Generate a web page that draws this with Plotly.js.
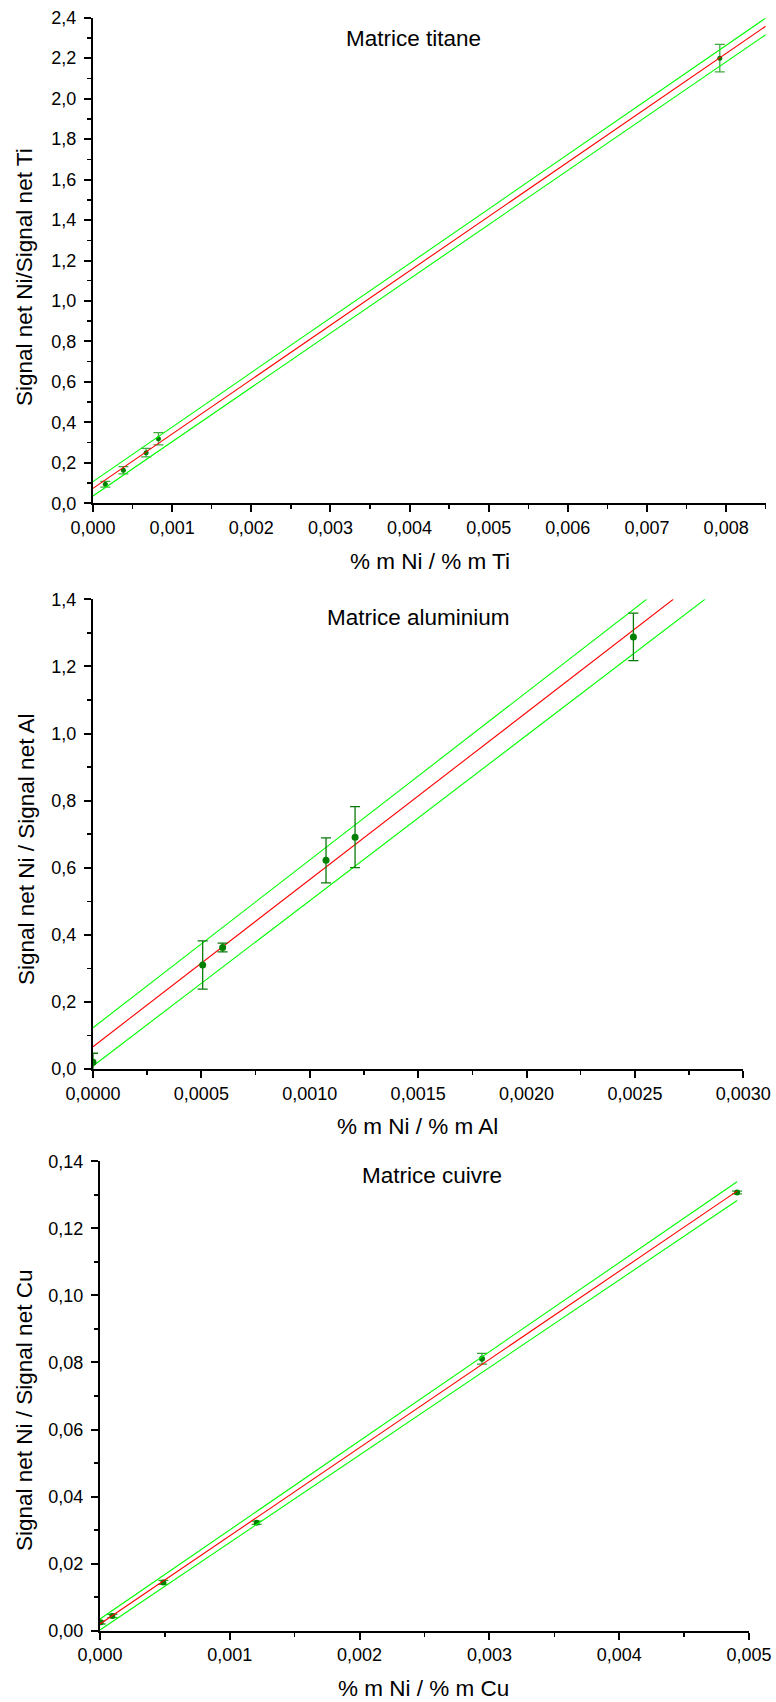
<!DOCTYPE html>
<html>
<head>
<meta charset="utf-8">
<script src="https://cdn.plot.ly/plotly-3.0.1.min.js"></script>
<style>
  html, body { margin: 0; padding: 0; background: #fff; }
  #chart { width: 776px; height: 1702px; }
</style>
</head>
<body>
<div id="chart"></div>
<script>
// ---------- Matrice titane ----------
var tiX = [0.000156, 0.000384, 0.000671, 0.000827, 0.00792];
var tiY = [0.094, 0.163, 0.250, 0.319, 2.200];
var tiErr = [0.014, 0.018, 0.021, 0.030, 0.068];
var tiFitX = [0, 0.0085];
var tiFitY = [0.074, 2.358];
var tiUpperY = [0.107, 2.398];
var tiLowerY = [0.036, 2.316];

// ---------- Matrice aluminium ----------
var alX = [0.0, 0.000506, 0.000598, 0.001075, 0.001209, 0.002493];
var alY = [0.020, 0.310, 0.362, 0.622, 0.691, 1.288];
var alErr = [0.027, 0.072, 0.013, 0.067, 0.091, 0.071];
var alFitX = [0, 0.002677];
var alFitY = [0.0665, 1.4];
var alUpperX = [0, 0.002554];
var alUpperY = [0.123, 1.4];
var alLowerX = [0, 0.002823];
var alLowerY = [0.009, 1.4];

// ---------- Matrice cuivre ----------
var cuX = [0.000005, 0.000095, 0.000488, 0.001207, 0.002943, 0.004908];
var cuY = [0.0025, 0.0044, 0.0144, 0.0322, 0.0811, 0.1307];
var cuErr = [0.0005, 0.0005, 0.0006, 0.0005, 0.0016, 0.0004];
var cuFitX = [0, 0.004908];
var cuFitY = [0.002, 0.1311];
var cuUpperY = [0.0035, 0.1339];
var cuLowerY = [0.0002, 0.1283];

// ---------- Text ----------
var panelTitles = ['Matrice titane', 'Matrice aluminium', 'Matrice cuivre'];
var xTitles = ['% m Ni / % m Ti', '% m Ni / % m Al', '% m Ni / % m Cu'];
var yTitles = ['Signal net Ni/Signal net Ti', 'Signal net Ni / Signal net Al', 'Signal net Ni / Signal net Cu'];

var RED = '#ff0000', LIME = '#00ff00', DKGREEN = '#008000';
var FONT = 'Liberation Sans, Arial, sans-serif';
var TICK_SIZE = 18, TITLE_SIZE = 22.5;

function pts(x, y, err, xa, ya, size, ecol) {
  return {x: x, y: y, xaxis: xa, yaxis: ya, type: 'scatter', mode: 'markers',
    marker: {color: DKGREEN, size: size},
    error_y: {type: 'data', array: err, visible: true, color: ecol, thickness: 1.3, width: 5},
    hoverinfo: 'x+y'};
}
function ln(x, y, xa, ya, color) {
  return {x: x, y: y, xaxis: xa, yaxis: ya, type: 'scatter', mode: 'lines',
    line: {color: color, width: 1.1}, hoverinfo: 'skip'};
}

var traces = [
  pts(tiX, tiY, tiErr, 'x', 'y', 5, 'rgba(0,140,0,0.75)'),
  ln(tiFitX, tiUpperY, 'x', 'y', LIME),
  ln(tiFitX, tiLowerY, 'x', 'y', LIME),
  ln(tiFitX, tiFitY, 'x', 'y', RED),

  ln(alUpperX, alUpperY, 'x2', 'y2', LIME),
  ln(alLowerX, alLowerY, 'x2', 'y2', LIME),
  ln(alFitX, alFitY, 'x2', 'y2', RED),
  pts(alX, alY, alErr, 'x2', 'y2', 7, '#0a7a0a'),

  pts(cuX, cuY, cuErr, 'x3', 'y3', 6, 'rgba(0,140,0,0.8)'),
  ln(cuFitX, cuUpperY, 'x3', 'y3', LIME),
  ln(cuFitX, cuLowerY, 'x3', 'y3', LIME),
  ln(cuFitX, cuFitY, 'x3', 'y3', RED)
];

function ax(domain, anchor, range, dtick, mdtick, fmt, standoff) {
  return {domain: domain, anchor: anchor, range: range, dtick: dtick, tick0: 0, tickformat: fmt,
    showline: true, linecolor: '#000', linewidth: 2, mirror: false,
    ticks: 'outside', ticklen: 7, tickwidth: 2, tickcolor: '#000',
    ticklabelstandoff: standoff,
    minor: {ticks: 'outside', ticklen: 4, tickwidth: 1.5, tickcolor: '#000', dtick: mdtick, tick0: 0, showgrid: false},
    showgrid: false, zeroline: false, automargin: false,
    tickfont: {family: FONT, size: TICK_SIZE, color: '#000'}};
}

var W = 776, H = 1702;
function dx(a, b) { return [a / W, b / W]; }
function dy(top, bottom) { return [1 - bottom / H, 1 - top / H]; }

function note(text, xpx, ypx, angle) {
  return {text: text, xref: 'paper', yref: 'paper', x: xpx / W, y: 1 - ypx / H,
    xanchor: 'center', yanchor: 'middle', showarrow: false, textangle: angle || 0,
    font: {family: FONT, size: TITLE_SIZE, color: '#000'}};
}

var layout = {
  width: W, height: H,
  margin: {l: 0, r: 0, t: 0, b: 0},
  paper_bgcolor: '#fff', plot_bgcolor: '#fff',
  separators: ', ',
  showlegend: false,
  font: {family: FONT, color: '#000', size: TICK_SIZE},
  xaxis:  ax(dx(93, 765.7), 'y',  [0, 0.0085], 0.001, 0.0005, '.3f', 0),
  yaxis:  ax(dy(17.7, 503.3), 'x', [0, 2.4], 0.2, 0.1, '.1f', 4),
  xaxis2: ax(dx(93, 743.3), 'y2', [0, 0.003], 0.0005, 0.00025, '.4f', 0),
  yaxis2: ax(dy(599.3, 1069), 'x2', [0, 1.4], 0.2, 0.1, '.1f', 4),
  xaxis3: ax(dx(100, 749), 'y3', [0, 0.005], 0.001, 0.0005, '.3f', 0),
  yaxis3: ax(dy(1161.3, 1630.7), 'x3', [0, 0.14], 0.02, 0.01, '.2f', 4),
  annotations: [
    note(panelTitles[0], 413.8, 38.5),
    note(panelTitles[1], 418, 617.5),
    note(panelTitles[2], 432, 1175),
    note(xTitles[0], 430, 561),
    note(xTitles[1], 417, 1126),
    note(xTitles[2], 424, 1688),
    note(yTitles[0], 24, 277, -90),
    note(yTitles[1], 26, 850, -90),
    note(yTitles[2], 24, 1411, -90)
  ]
};

Plotly.newPlot('chart', traces, layout, {staticPlot: true, displayModeBar: false});
</script>
</body>
</html>
